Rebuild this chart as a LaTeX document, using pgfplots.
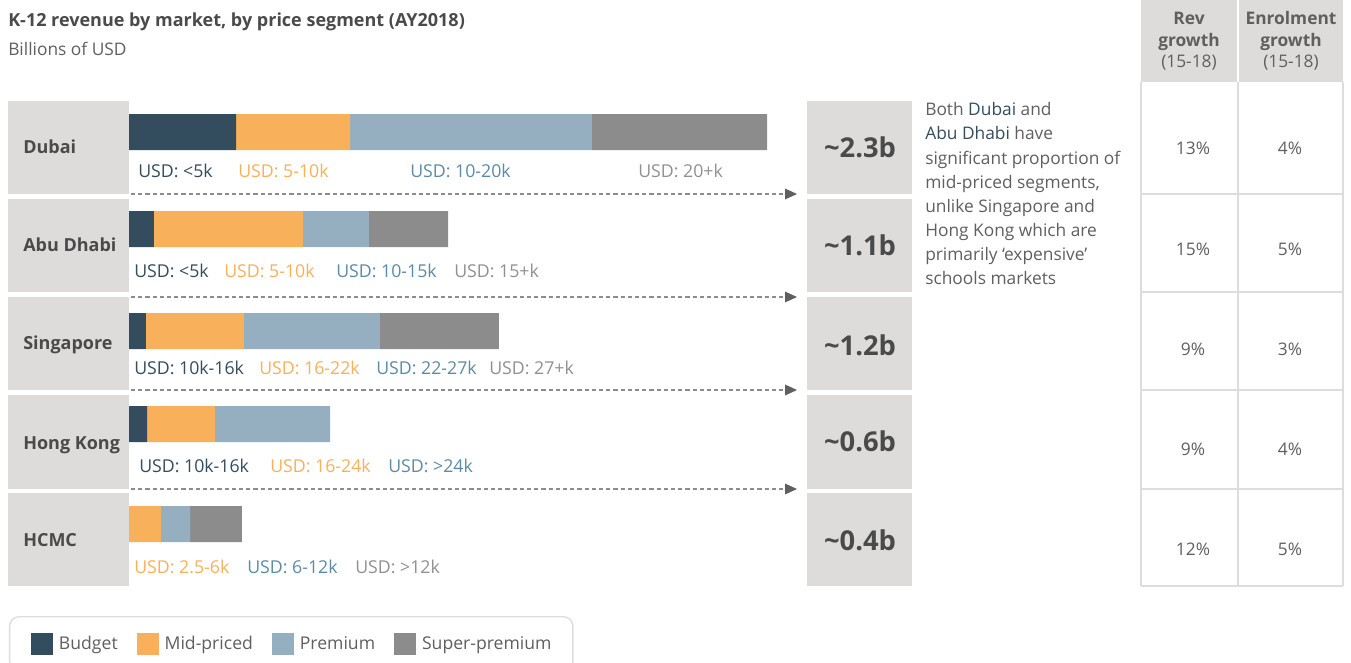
\documentclass[border=0pt]{standalone}
\usepackage{pgfplots}
\pgfplotsset{compat=1.18}
\usepackage{pgfplotstable}
\usetikzlibrary{arrows.meta}
\usepackage{fontspec}
\setmainfont{Open Sans}
\definecolor{budget}{HTML}{344D5E}
\definecolor{mid}{HTML}{F9B05A}
\definecolor{premium}{HTML}{95AFC1}
\definecolor{super}{HTML}{8C8C8C}
\definecolor{premtxt}{HTML}{5B8BA6}
\definecolor{suptxt}{HTML}{909090}
\definecolor{boxgray}{HTML}{DDDCDA}
\definecolor{titlegray}{HTML}{4A4A4A}
\definecolor{txtgray}{HTML}{5F5F5F}
\definecolor{linegray}{HTML}{DDDDDD}
\newcommand\fs[1]{\fontsize{#1}{#1}\selectfont}

\pgfplotstableread{
pos budget mid premium super
132 0.386 0.411 0.872 0.631
229 0.090 0.537 0.238 0.285
331 0.061 0.353 0.490 0.429
424 0.065 0.245 0.415 0
524 0     0.115 0.105 0.187
}\segdata

\begin{document}
\begin{tikzpicture}[x=0.75pt,y=-0.75pt]
\useasboundingbox (0,0) rectangle (1351,663);
\clip (0,0) rectangle (1351,663);

% title
\node[anchor=base west,inner sep=0,text=titlegray,font=\fs{13.5}\bfseries] at (8,27) {K-12 revenue by market, by price segment (AY2018)};
\node[anchor=base west,inner sep=0,text=txtgray,font=\fs{13}] at (8,56) {Billions of USD};

% left and right boxes
\foreach \a/\b in {101/194,199/292,297/390,395/489,493/586}{
  \fill[boxgray] (8,\a) rectangle (129,\b);
  \fill[boxgray] (807,\a) rectangle (912,\b);
}
\foreach \t/\yy in {Dubai/153,Abu Dhabi/251,Singapore/349,Hong Kong/449,HCMC/546}{
  \node[anchor=base west,inner sep=0,text=titlegray,font=\fs{13.5}\bfseries] at (23,\yy) {\t};
}
\foreach \t/\yy in {2.3b/157,1.1b/255,1.2b/355,0.6b/451,0.4b/550}{
  \node[anchor=base,inner sep=0,text=titlegray,font=\fs{20.5}\bfseries] at (860,\yy) {\textasciitilde\t};
}

% dashed arrows
\foreach \yy in {194,297,390,489}{
  \draw[gray!90,line width=0.9pt,dash pattern=on 3.2pt off 2.2pt] (131,\yy) -- (786,\yy);
  \fill[txtgray] (785,\yy-5.5) -- (797,\yy) -- (785,\yy+5.5) -- cycle;
}

% bars
\begin{axis}[at={(96.75pt,-75pt)},anchor=north west,
  width=478.5pt,height=345pt,scale only axis,
  xmin=0,xmax=2.3,ymin=100,ymax=560,y dir=reverse,
  hide axis,xbar stacked,bar width=36,
  legend columns=4,
  legend image code/.code={\fill[#1,draw=none,sharp corners] (0pt,-8.25pt) rectangle (16.5pt,8.25pt);},
  legend style={at={(axis description cs:-0.18809,-0.12174)},anchor=north west,
    draw=linegray,line width=1pt,rounded corners=7pt,
    inner xsep=16pt,inner ysep=12pt,
    font=\fs{13.2},text=txtgray,
    nodes={inner sep=0pt},cells={anchor=west},
    /tikz/every odd column/.append style={column sep=4.5pt},
    /tikz/every even column/.append style={column sep=14.2pt}},
]
\addplot[fill=budget,draw=none] table[x=budget,y=pos]{\segdata};
\addplot[fill=mid,draw=none] table[x=mid,y=pos]{\segdata};
\addplot[fill=premium,draw=none] table[x=premium,y=pos]{\segdata};
\addplot[fill=super,draw=none] table[x=super,y=pos]{\segdata};
\legend{Budget,Mid-priced,Premium,Super-premium}
\end{axis}

% segment labels
\tikzset{lab/.style={anchor=base west,inner sep=0,font=\fs{13.3}}}
\node[lab,text=budget] at (138,177) {USD: <5k};
\node[lab,text=mid] at (238,177) {USD: 5-10k};
\node[lab,text=premtxt] at (410,177) {USD: 10-20k};
\node[lab,text=suptxt] at (638,177) {USD: 20+k};
\node[lab,text=budget] at (134,277) {USD: <5k};
\node[lab,text=mid] at (224,277) {USD: 5-10k};
\node[lab,text=premtxt] at (336,277) {USD: 10-15k};
\node[lab,text=suptxt] at (454,277) {USD: 15+k};
\node[lab,text=budget] at (134,374) {USD: 10k-16k};
\node[lab,text=mid] at (259,374) {USD: 16-22k};
\node[lab,text=premtxt] at (376,374) {USD: 22-27k};
\node[lab,text=suptxt] at (489,374) {USD: 27+k};
\node[lab,text=budget] at (139,472) {USD: 10k-16k};
\node[lab,text=mid] at (270,472) {USD: 16-24k};
\node[lab,text=premtxt] at (388,472) {USD: >24k};
\node[lab,text=mid] at (134,573) {USD: 2.5-6k};
\node[lab,text=premtxt] at (247,573) {USD: 6-12k};
\node[lab,text=suptxt] at (355,573) {USD: >12k};

% annotation
\tikzset{ann/.style={anchor=base west,inner sep=0,font=\fs{13},text=txtgray}}
\node[ann] at (925,116) {Both \textcolor{budget}{Dubai} and};
\node[ann] at (925,140) {\textcolor{budget}{Abu Dhabi} have};
\node[ann] at (925,164) {significant proportion of};
\node[ann] at (925,188) {mid-priced segments,};
\node[ann] at (925,212) {unlike Singapore and};
\node[ann] at (925,236) {Hong Kong which are};
\node[ann] at (925,260) {primarily ‘expensive’};
\node[ann] at (925,284) {schools markets};

% table
\fill[boxgray] (1141,0) rectangle (1237,82);
\fill[boxgray] (1239,0) rectangle (1343,82);
\tikzset{hd/.style={anchor=base,inner sep=0,font=\fs{13}\bfseries,text=txtgray},
         hs/.style={anchor=base,inner sep=0,font=\fs{13},text=txtgray}}
\node[hd] at (1189,25) {Rev};
\node[hd] at (1189,47) {growth};
\node[hs] at (1189,68) {(15-18)};
\node[hd] at (1291,25) {Enrolment};
\node[hd] at (1291,47) {growth};
\node[hs] at (1291,68) {(15-18)};
\draw[linegray,line width=1.2pt] (1141,82) -- (1141,586) (1238,82) -- (1238,586) (1343,82) -- (1343,586);
\foreach \yy in {194,292,390,489,586}{
  \draw[linegray,line width=1.2pt] (1141,\yy) -- (1343,\yy);
}
\foreach \yy/\a/\b in {155/13/4,255/15/5,355/9/3,455/9/4,555/12/5}{
  \node[hs] at (1193,\yy) {\a\%};
  \node[hs] at (1290,\yy) {\b\%};
}
\end{tikzpicture}
\end{document}
